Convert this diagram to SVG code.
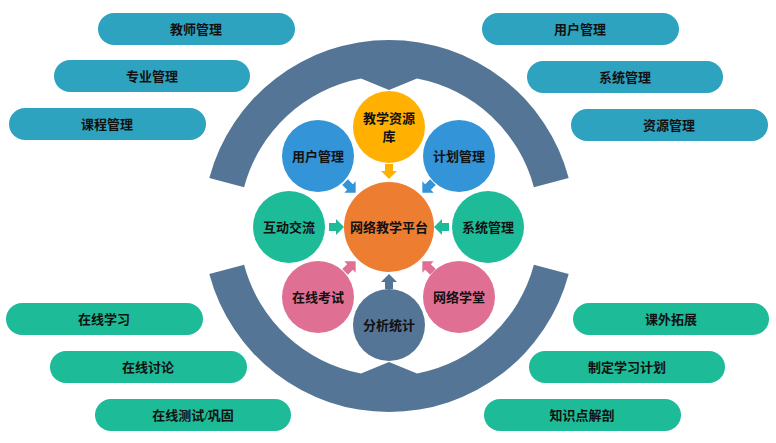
<svg xmlns="http://www.w3.org/2000/svg" width="776" height="443" viewBox="0 0 776 443">
<style>
text{font-family:"Liberation Serif","Noto Sans CJK SC",serif;font-weight:bold;font-size:13px;fill:#111;text-anchor:middle;dominant-baseline:central}
.pb{fill:#2ea3bf}.pg{fill:#1dbb98}
.arc{fill:#557596}
</style>
<defs><polygon id="ar" points="-7,-4 0,-4 0,-8 8,0 0,8 0,4 -7,4"/></defs>
<rect width="776" height="443" fill="#fff"/>
<g id="ring">
<path class="arc" d="M209.3,177.9 A186,186 0 0 1 568.7,177.9 L533.9,187.2 A150,150 0 0 0 417,78.6 L389,90 L361,78.6 A150,150 0 0 0 244.1,187.2 Z"/>
<path class="arc" d="M209.3,274.1 A186,186 0 0 0 568.7,274.1 L533.9,264.8 A150,150 0 0 1 417,373.4 L389,362 L361,373.4 A150,150 0 0 1 244.1,264.8 Z"/>
</g>
<g id="pills">
<g id="p1"><rect class="pb" x="98" y="13" width="197" height="32" rx="16"/><text x="196" y="29">教师管理</text></g>
<g id="p2"><rect class="pb" x="54" y="60" width="196" height="32" rx="16"/><text x="152" y="76">专业管理</text></g>
<g id="p3"><rect class="pb" x="9" y="108" width="197" height="32" rx="16"/><text x="107" y="124">课程管理</text></g>
<g id="p4"><rect class="pb" x="482" y="13" width="197" height="32" rx="16"/><text x="580" y="29">用户管理</text></g>
<g id="p5"><rect class="pb" x="527" y="61" width="196" height="32" rx="16"/><text x="625" y="77">系统管理</text></g>
<g id="p6"><rect class="pb" x="571" y="109" width="197" height="32" rx="16"/><text x="669" y="125">资源管理</text></g>
<g id="p7"><rect class="pg" x="6" y="303" width="197" height="32" rx="16"/><text x="104" y="319">在线学习</text></g>
<g id="p8"><rect class="pg" x="50" y="351" width="197" height="32" rx="16"/><text x="148" y="367">在线讨论</text></g>
<g id="p9"><rect class="pg" x="95" y="399" width="196" height="32" rx="16"/><text x="193" y="415">在线测试/巩固</text></g>
<g id="p10"><rect class="pg" x="573" y="303" width="196" height="32" rx="16"/><text x="671" y="319">课外拓展</text></g>
<g id="p11"><rect class="pg" x="529" y="351" width="196" height="32" rx="16"/><text x="627" y="367">制定学习计划</text></g>
<g id="p12"><rect class="pg" x="484" y="399" width="197" height="32" rx="16"/><text x="582" y="415">知识点解剖</text></g>
</g>
<g id="connectors">
<use href="#ar" fill="#ffb000" transform="translate(389,171) rotate(90)"/>
<use href="#ar" fill="#3494d8" transform="translate(350,187) rotate(45)"/>
<use href="#ar" fill="#3494d8" transform="translate(428,187) rotate(135)"/>
<use href="#ar" fill="#1dbb98" transform="translate(336,227)"/>
<use href="#ar" fill="#1dbb98" transform="translate(442,227) rotate(180)"/>
<use href="#ar" fill="#df6f93" transform="translate(350,267) rotate(-45)"/>
<use href="#ar" fill="#df6f93" transform="translate(428,267) rotate(-135)"/>
<use href="#ar" fill="#557596" transform="translate(389,282) rotate(-90)"/>
</g>
<g id="c0"><circle cx="389" cy="227" r="45" fill="#ed7d31"/><text x="389" y="227">网络教学平台</text></g>
<g id="c1"><circle cx="389" cy="127" r="36" fill="#ffb000"/><text x="389" y="118">教学资源</text><text x="389" y="136">库</text></g>
<g id="c2"><circle cx="318" cy="156" r="36" fill="#3494d8"/><text x="318" y="156">用户管理</text></g>
<g id="c3"><circle cx="459" cy="156" r="36" fill="#3494d8"/><text x="459" y="156">计划管理</text></g>
<g id="c4"><circle cx="289" cy="227" r="36" fill="#1dbb98"/><text x="289" y="227">互动交流</text></g>
<g id="c5"><circle cx="488" cy="227" r="36" fill="#1dbb98"/><text x="488" y="227">系统管理</text></g>
<g id="c6"><circle cx="318" cy="297" r="36" fill="#df6f93"/><text x="318" y="297">在线考试</text></g>
<g id="c7"><circle cx="459" cy="297" r="36" fill="#df6f93"/><text x="459" y="297">网络学堂</text></g>
<g id="c8"><circle cx="389" cy="325" r="36" fill="#557596"/><text x="389" y="325">分析统计</text></g>
</svg>
